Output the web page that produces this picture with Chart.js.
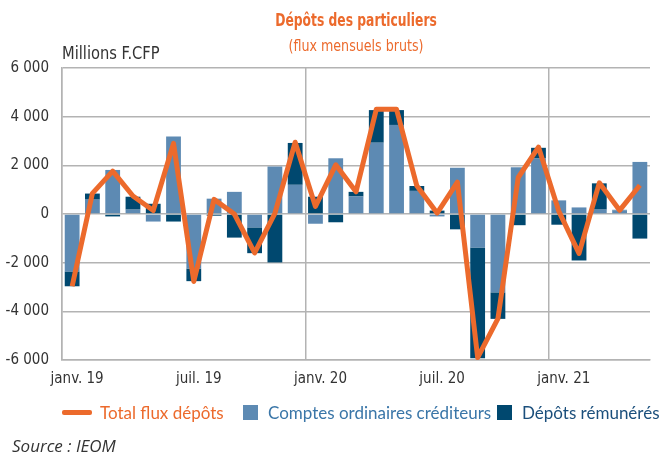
<!DOCTYPE html>
<html lang="fr">
<head>
<meta charset="utf-8">
<script src="https://cdn.jsdelivr.net/npm/chart.js@4.4.0/dist/chart.umd.min.js"></script>
<style>
  html, body { margin: 0; padding: 0; background: #fff; }
  #wrap { position: relative; width: 660px; height: 457px; overflow: hidden; }
  #wrap canvas { position: absolute; left: 0; top: 0; }
  .narrow { font-family: 'Liberation Sans Narrow', 'DejaVu Sans Condensed', Roboto, sans-serif; }
  .abs { position: absolute; white-space: nowrap; }
  #title { left: 156px; width: 400px; top: 11px; text-align: center; font-size: 18px; line-height: 18px; font-weight: bold; color: #ec6a2c; transform: scaleX(0.76); transform-origin: 200px 0; }
  #subtitle { left: 156px; width: 400px; top: 38px; text-align: center; font-size: 16px; line-height: 16px; color: #ec6a2c; transform: scaleX(0.88); transform-origin: 200px 0; }
  #unit { left: 62px; top: 45px; font-size: 17px; line-height: 17px; color: #333; transform: scaleX(0.96); transform-origin: 0 0; }
  .leg-text { font-family: Lato, 'Open Sans', sans-serif; font-size: 17px; line-height: 17px; top: 404px; }
  #source { left: 12px; top: 437px; font-family: 'Open Sans', sans-serif; font-style: italic; font-size: 17px; line-height: 17px; color: #333; }
</style>
</head>
<body>
<div id="wrap">
  <canvas id="depotsChart" width="660" height="457"></canvas>
  <div id="title" class="abs narrow">Dépôts des particuliers</div>
  <div id="subtitle" class="abs narrow">(flux mensuels bruts)</div>
  <div id="unit" class="abs narrow">Millions F.CFP</div>
  <div id="legend"></div>
  <div id="source" class="abs">Source : IEOM</div>
</div>
<script>
"use strict";

// mois de janv. 2019 a mai 2021
const months = ["janv. 19", "févr. 19", "mars 19", "avr. 19", "mai 19", "juin 19",
    "juil. 19", "août 19", "sept. 19", "oct. 19", "nov. 19", "déc. 19",
    "janv. 20", "févr. 20", "mars 20", "avr. 20", "mai 20", "juin 20",
    "juil. 20", "août 20", "sept. 20", "oct. 20", "nov. 20", "déc. 20",
    "janv. 21", "févr. 21", "mars 21", "avr. 21", "mai 21"];

const comptesOrdinaires = [-2360, 590, 1810, 180, -310, 3180, -2240, 630, 910, -550, 1950, 1200,
    -400, 2290, 720, 2930, 3660, 950, -100, 1900, -1380, -3220, 1920, 2280,
    560, 270, 180, 150, 2140];

const depotsRemuneres = [-610, 250, -100, 530, 420, -310, -520, -70, -970, -1060, -1990, 1720,
    710, -340, 190, 1340, 610, 200, 140, -630, -4550, -1090, -460, 440,
    -440, -1910, 1080, 20, -1010];

const totalFlux = [-2970, 850, 1760, 740, 140, 2900, -2770, 600, 0, -1600, 30, 2950,
    310, 2020, 910, 4300, 4300, 1160, 40, 1310, -5900, -4300, 1500, 2750,
    120, -1620, 1280, 150, 1180];

const yTicks = [-6000, -4000, -2000, 0, 2000, 4000, 6000];

const seriesNames = ["Total flux dépôts", "Comptes ordinaires créditeurs", "Dépôts rémunérés"];

const ORANGE = '#ec6a2c';
const LIGHT_BLUE = '#5d8ab3';
const DARK_BLUE = '#00486f';
const GRID = '#b3b3b3';
const narrowFont = "'Liberation Sans Narrow', 'DejaVu Sans Condensed', Roboto, sans-serif";

function formatThousands(v) {
    if (v === 0) return '0';
    return (v < 0 ? '-' : '') + Math.abs(v / 1000) + ' 000';
}

const ctx = document.getElementById('depotsChart').getContext('2d');

const depotsChart = new Chart(ctx, {
    type: 'bar',
    data: {
        labels: months,
        datasets: [
            {
                type: 'line',
                label: seriesNames[0],
                data: totalFlux,
                borderColor: ORANGE,
                backgroundColor: ORANGE,
                borderWidth: 5,
                pointRadius: 0,
                tension: 0,
                borderJoinStyle: 'round',
                stack: 'total',
                order: 0
            },
            {
                label: seriesNames[1],
                data: comptesOrdinaires,
                backgroundColor: LIGHT_BLUE,
                stack: 'bars',
                order: 1,
                categoryPercentage: 1,
                barPercentage: 0.73
            },
            {
                label: seriesNames[2],
                data: depotsRemuneres,
                backgroundColor: DARK_BLUE,
                stack: 'bars',
                order: 1,
                categoryPercentage: 1,
                barPercentage: 0.73
            }
        ]
    },
    options: {
        responsive: false,
        devicePixelRatio: 1,
        animation: false,
        layout: { padding: { left: 0, top: 68, right: 10, bottom: 67 } },
        plugins: {
            legend: { display: false },
            title: { display: false },
            tooltip: { enabled: false }
        },
        scales: {
            x: {
                stacked: true,
                offset: true,
                afterFit: (scale) => { scale.height = 30; },
                grid: {
                    offset: true,
                    drawTicks: false,
                    lineWidth: 1.5,
                    color: (c) => (c.index % 12 === 0 || c.index === months.length) ? GRID : 'rgba(0,0,0,0)'
                },
                border: { color: GRID, width: 1.5 },
                ticks: {
                    autoSkip: false,
                    maxRotation: 0,
                    padding: 10,
                    labelOffset: 5,
                    color: '#333',
                    font: { family: narrowFont, size: 15 },
                    callback: (val, i) => (i % 6 === 0) ? months[i] : ''
                }
            },
            y: {
                stacked: true,
                min: yTicks[0],
                max: yTicks[yTicks.length - 1],
                afterFit: (scale) => { scale.width = 62; },
                afterBuildTicks: (scale) => { scale.ticks = yTicks.map(v => ({ value: v })); },
                grid: { color: GRID, lineWidth: 1.5, drawTicks: false },
                border: { color: GRID, width: 1.5 },
                ticks: {
                    padding: 13,
                    color: '#333',
                    font: { family: narrowFont, size: 15 },
                    callback: (v) => formatThousands(v)
                }
            }
        }
    }
});

// legende construite a partir des datasets
const legendPos = [
    { box: 62, text: 100, color: ORANGE },
    { box: 243, text: 268, color: '#3a76a8' },
    { box: 497, text: 522, color: '#1b4f7c' }
];
const legendEl = document.getElementById('legend');
depotsChart.data.datasets.forEach((ds, i) => {
    const p = legendPos[i];
    const box = document.createElement('div');
    box.className = 'abs';
    if (ds.type === 'line') {
        box.style.cssText = `left:${p.box}px;top:410px;width:30px;height:5px;border-radius:2px;background:${ds.borderColor}`;
    } else {
        box.style.cssText = `left:${p.box}px;top:405px;width:15px;height:15px;background:${ds.backgroundColor}`;
    }
    legendEl.appendChild(box);
    const txt = document.createElement('div');
    txt.className = 'abs leg-text';
    txt.style.left = p.text + 'px';
    txt.style.color = p.color;
    txt.textContent = ds.label;
    legendEl.appendChild(txt);
});
</script>
</body>
</html>
